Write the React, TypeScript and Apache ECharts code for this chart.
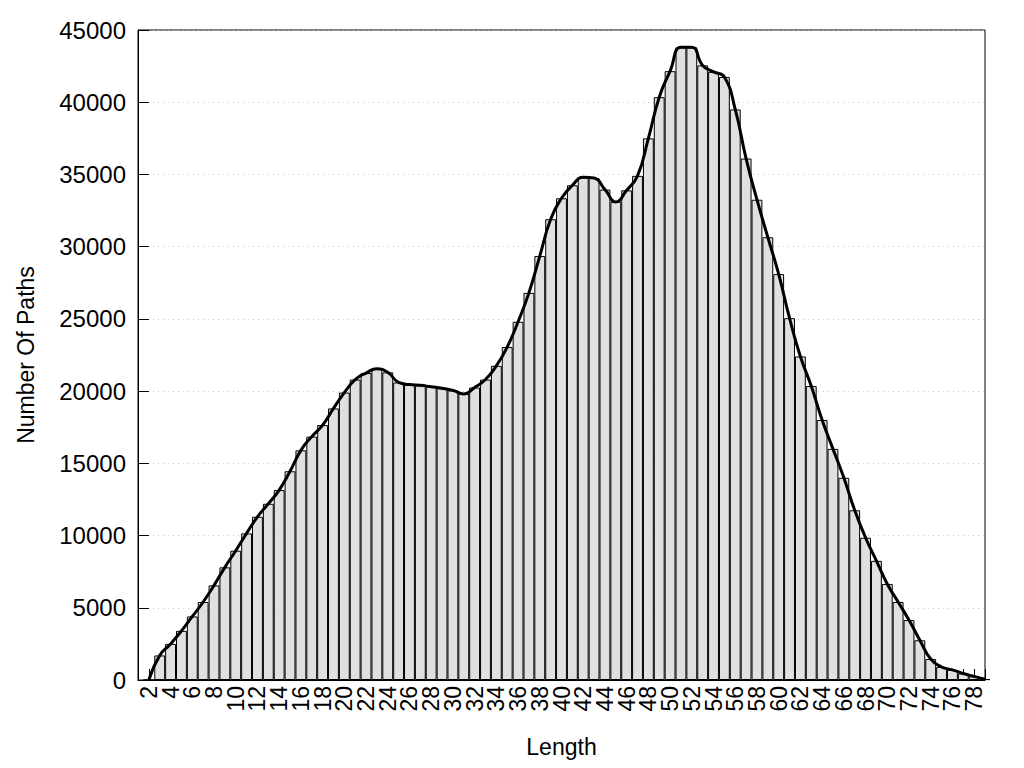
import { useEffect, useRef } from "react";
import * as echarts from "echarts";

// Path length (x categories; the axis runs from 1 to 79)
const lengths = [
  1, 2, 3, 4, 5, 6, 7, 8, 9, 10,
  11, 12, 13, 14, 15, 16, 17, 18, 19, 20,
  21, 22, 23, 24, 25, 26, 27, 28, 29, 30,
  31, 32, 33, 34, 35, 36, 37, 38, 39, 40,
  41, 42, 43, 44, 45, 46, 47, 48, 49, 50,
  51, 52, 53, 54, 55, 56, 57, 58, 59, 60,
  61, 62, 63, 64, 65, 66, 67, 68, 69, 70,
  71, 72, 73, 74, 75, 76, 77, 78, 79,
];

// Number of paths for each length (no value at length 1)
const pathCounts = [
  null, 0, 1700, 2500, 3400, 4400, 5400, 6550, 7800, 8950,
  10150, 11300, 12200, 13150, 14450, 15900, 16850, 17650, 18800, 19900,
  20800, 21250, 21550, 21300, 20600, 20450, 20400, 20300, 20200, 20050,
  19800, 20250, 20800, 21750, 23050, 24800, 26800, 29350, 31900, 33350,
  34250, 34800, 34750, 33950, 33100, 33900, 34900, 37500, 40350, 42150,
  43800, 43800, 42550, 42100, 41750, 39500, 36100, 33250, 30650, 28100,
  25050, 22400, 20350, 18000, 16000, 14000, 11750, 9850, 8250, 6650,
  5400, 4150, 2750, 1450, 900, 700, 450, 250, 60,
];

const yMin = 0;
const yMax = 45000;
const yStep = 5000;

const xTitle = "Length";
const yTitle = "Number Of Paths";

export default function App() {
  const ref = useRef<HTMLDivElement>(null);

  useEffect(() => {
    const chart = echarts.init(ref.current!, null, { renderer: "svg" });
    chart.setOption({
      animation: false,
      backgroundColor: "#ffffff",
      textStyle: { fontFamily: "'Liberation Sans', Arial, sans-serif", color: "#000" },
      grid: {
        left: 138,
        right: 39,
        top: 30,
        bottom: 88,
        show: true,
        borderColor: "#000",
        borderWidth: 1,
        backgroundColor: "transparent",
      },
      xAxis: {
        type: "category",
        data: lengths.map(String),
        boundaryGap: false,
        name: xTitle,
        nameLocation: "middle",
        nameGap: 55,
        nameTextStyle: { fontSize: 23, color: "#000" },
        axisLine: { show: true, lineStyle: { color: "#000", width: 1 } },
        axisTick: { show: true, inside: true, length: 11, interval: 0, lineStyle: { color: "#000" } },
        axisLabel: {
          rotate: 90,
          interval: 0,
          showMinLabel: false,
          showMaxLabel: false,
          hideOverlap: false,
          formatter: (v: string) => (Number(v) % 2 === 0 ? v : ""),
          fontSize: 23,
          color: "#000",
          margin: 6,
        },
        splitLine: { show: false },
      },
      yAxis: {
        type: "value",
        min: yMin,
        max: yMax,
        interval: yStep,
        name: yTitle,
        nameLocation: "middle",
        nameRotate: 90,
        nameGap: 101,
        nameTextStyle: { fontSize: 23, color: "#000" },
        axisLine: { show: true, lineStyle: { color: "#000", width: 1 } },
        axisTick: { show: true, inside: true, length: 11, lineStyle: { color: "#000" } },
        axisLabel: {
          fontSize: 24,
          color: "#000",
          margin: 12,
          formatter: (v: number) => String(v),
        },
        splitLine: { show: true, lineStyle: { color: "#c8c8c8", type: [1, 4], width: 1 } },
      },
      series: [
        {
          type: "bar",
          data: pathCounts,
          barWidth: "100%",
          clip: true,
          itemStyle: { color: "#e0e0e0", borderColor: "#000", borderWidth: 1 },
          z: 2,
        },
        {
          type: "line",
          data: pathCounts,
          smooth: true,
          symbol: "none",
          showSymbol: false,
          lineStyle: { color: "#000", width: 3 },
          z: 3,
        },
      ],
    });
    return () => chart.dispose();
  }, []);

  return (
    <div
      ref={ref}
      style={{ position: "absolute", left: 0, top: 0, width: 1024, height: 768, background: "#fff" }}
    />
  );
}
